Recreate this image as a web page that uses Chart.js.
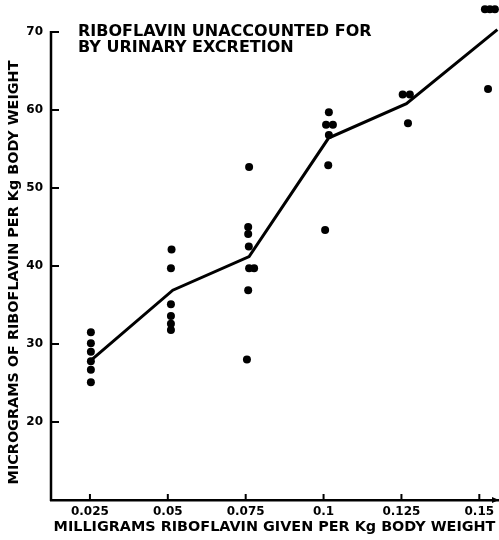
<!DOCTYPE html>
<html>
<head>
<meta charset="utf-8">
<script src="https://cdn.jsdelivr.net/npm/chart.js@4"></script>
<style>
    html, body { margin: 0; padding: 0; background: #fff; }
</style>
</head>
<body>
<canvas id="chart" width="499" height="540"></canvas>
<script>
// x tick positions and their printed labels
const xTickValues = [0.025, 0.05, 0.075, 0.1, 0.125, 0.15];
const xTickLabels = ["0.025", "0.05", "0.075", "0.1", "0.125", "0.15"];
const yTickValues = [20, 30, 40, 50, 60, 70];

// individual observations (mg given per kg, micrograms unaccounted for per kg)
const pointDose = [
    0.0253, 0.0253, 0.0253, 0.0253, 0.0253, 0.0253,
    0.0512, 0.0510, 0.0510, 0.0510, 0.0510, 0.0510,
    0.0761, 0.0758, 0.0758, 0.0760, 0.0761, 0.0777, 0.0758, 0.0754,
    0.1017, 0.1008, 0.1030, 0.1017, 0.1015, 0.1005,
    0.1254, 0.1277, 0.1271,
    0.1518, 0.1534, 0.1550, 0.1528
];
const pointAmount = [
    31.5, 30.1, 29.0, 27.8, 26.7, 25.1,
    42.1, 39.7, 35.1, 33.6, 32.6, 31.8,
    52.7, 45.0, 44.1, 42.5, 39.7, 39.7, 36.9, 28.0,
    59.7, 58.1, 58.1, 56.8, 52.9, 44.6,
    62.0, 62.0, 58.3,
    72.9, 72.9, 72.9, 62.7
];

// the averaged line
const lineDose = [0.0253, 0.0516, 0.0761, 0.1016, 0.1266, 0.1558];
const lineAmount = [27.9, 36.9, 41.2, 56.4, 60.8, 70.3];

const titleLines = ["RIBOFLAVIN UNACCOUNTED FOR", "BY URINARY EXCRETION"];
const yTitle = "MICROGRAMS OF RIBOFLAVIN PER Kg BODY WEIGHT";
const xTitle = "MILLIGRAMS RIBOFLAVIN GIVEN PER Kg BODY WEIGHT";

const tickFont = { family: "DejaVu Sans", weight: "bold", size: 12 };
const titleFont = { family: "DejaVu Sans", weight: "bold", size: 14.4 };

// y axis line stopping at 70, inward tick marks, arrow, titles
const axisDecor = {
    id: "axisDecor",
    afterDraw(chart) {
        const ctx = chart.ctx;
        const x = chart.scales.x;
        const y = chart.scales.y;
        const area = chart.chartArea;
        const top = y.getPixelForValue(70);
        ctx.save();
        ctx.strokeStyle = "#000";
        ctx.fillStyle = "#000";

        ctx.lineWidth = 2.5;
        ctx.beginPath();
        ctx.moveTo(area.left, area.bottom + 1);
        ctx.lineTo(area.left, top - 1);
        ctx.stroke();

        ctx.lineWidth = 2;
        yTickValues.forEach(v => {
            const py = y.getPixelForValue(v);
            ctx.beginPath();
            ctx.moveTo(area.left, py);
            ctx.lineTo(area.left + 8, py);
            ctx.stroke();
        });
        xTickValues.forEach(v => {
            const px = x.getPixelForValue(v);
            ctx.beginPath();
            ctx.moveTo(px, area.bottom);
            ctx.lineTo(px, area.bottom - 6);
            ctx.stroke();
        });
        ctx.beginPath();
        ctx.moveTo(area.right + 1, area.bottom);
        ctx.lineTo(area.right - 6, area.bottom - 3);
        ctx.lineTo(area.right - 6, area.bottom + 3);
        ctx.closePath();
        ctx.fill();

        ctx.font = "bold 16px 'DejaVu Sans'";
        ctx.textAlign = "left";
        ctx.textBaseline = "alphabetic";
        ctx.fillText(titleLines[0], area.left + 27, top + 4);
        ctx.fillText(titleLines[1], area.left + 27, top + 20.5);

        ctx.font = "bold 14.4px 'DejaVu Sans'";
        ctx.textAlign = "center";
        ctx.textBaseline = "middle";
        ctx.translate(14, (top + area.bottom) / 2 + 6.5);
        ctx.rotate(-Math.PI / 2);
        ctx.fillText(yTitle, 0, 0);
        ctx.restore();
    }
};

const noPad = s => {
    s.paddingTop = 0;
    s.paddingBottom = 0;
    s.paddingLeft = 0;
    s.paddingRight = 0;
};

const ctx = document.getElementById("chart").getContext("2d");

new Chart(ctx, {
    type: "scatter",
    data: {
        datasets: [
            {
                label: "Observations",
                data: pointDose.map((d, i) => ({ x: d, y: pointAmount[i] })),
                backgroundColor: "#000",
                borderWidth: 0,
                pointRadius: 4,
                clip: false
            },
            {
                label: "Average",
                data: lineDose.map((d, i) => ({ x: d, y: lineAmount[i] })),
                showLine: true,
                borderColor: "#000",
                borderWidth: 3,
                pointRadius: 0,
                tension: 0,
                clip: false
            }
        ]
    },
    options: {
        responsive: false,
        animation: false,
        devicePixelRatio: 1,
        layout: { autoPadding: false, padding: { top: 0, right: 1, left: 0, bottom: 0 } },
        plugins: {
            legend: { display: false },
            tooltip: { enabled: false }
        },
        scales: {
            x: {
                type: "linear",
                min: 0.0125,
                max: 0.156,
                afterBuildTicks: s => { s.ticks = xTickValues.map(v => ({ value: v })); },
                afterFit: s => { s.height = 40; noPad(s); },
                grid: { display: false, drawTicks: false },
                border: { display: true, color: "#000", width: 2.5 },
                ticks: {
                    color: "#000",
                    font: tickFont,
                    padding: 5,
                    maxRotation: 0,
                    autoSkip: false,
                    callback: v => xTickLabels[xTickValues.indexOf(v)] ?? ""
                },
                title: {
                    display: true,
                    text: xTitle,
                    color: "#000",
                    font: titleFont,
                    padding: { top: 0, bottom: 4 }
                }
            },
            y: {
                min: 10,
                max: 74.1,
                afterBuildTicks: s => { s.ticks = yTickValues.map(v => ({ value: v })); },
                afterFit: s => { s.width = 51; noPad(s); },
                grid: { display: false, drawTicks: false },
                border: { display: false },
                ticks: { color: "#000", font: tickFont, padding: 8 }
            }
        }
    },
    plugins: [axisDecor]
});
</script>
</body>
</html>
